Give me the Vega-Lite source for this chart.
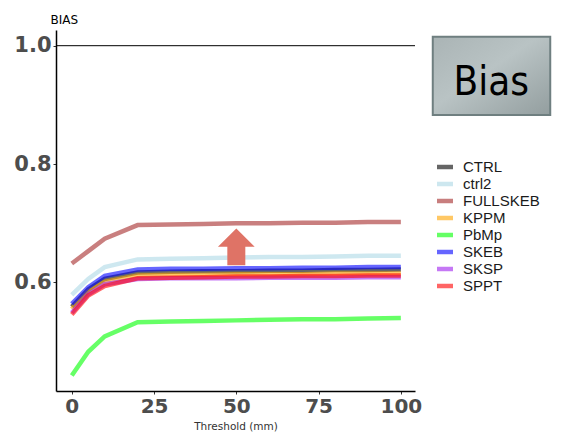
{
  "$schema": "https://vega.github.io/schema/vega-lite/v6.json",
  "autosize": "none",
  "padding": {"left": 56, "top": 30, "right": 155, "bottom": 42},
  "width": 359,
  "height": 361,
  "background": "white",
  "config": {"view": {"stroke": null}, "font": "DejaVu Sans"},
  "datasets": {
    "bias": [
      {"t":0,"model":"CTRL","bias":0.559},{"t":5,"model":"CTRL","bias":0.588},{"t":10,"model":"CTRL","bias":0.606},{"t":20,"model":"CTRL","bias":0.617},{"t":30,"model":"CTRL","bias":0.618},{"t":40,"model":"CTRL","bias":0.619},{"t":50,"model":"CTRL","bias":0.619},{"t":60,"model":"CTRL","bias":0.620},{"t":70,"model":"CTRL","bias":0.620},{"t":80,"model":"CTRL","bias":0.621},{"t":90,"model":"CTRL","bias":0.621},{"t":100,"model":"CTRL","bias":0.622},
      {"t":0,"model":"ctrl2","bias":0.579},{"t":5,"model":"ctrl2","bias":0.606},{"t":10,"model":"ctrl2","bias":0.626},{"t":20,"model":"ctrl2","bias":0.639},{"t":30,"model":"ctrl2","bias":0.640},{"t":40,"model":"ctrl2","bias":0.641},{"t":50,"model":"ctrl2","bias":0.642},{"t":60,"model":"ctrl2","bias":0.643},{"t":70,"model":"ctrl2","bias":0.643},{"t":80,"model":"ctrl2","bias":0.644},{"t":90,"model":"ctrl2","bias":0.645},{"t":100,"model":"ctrl2","bias":0.645},
      {"t":0,"model":"FULLSKEB","bias":0.632},{"t":5,"model":"FULLSKEB","bias":0.653},{"t":10,"model":"FULLSKEB","bias":0.674},{"t":20,"model":"FULLSKEB","bias":0.697},{"t":30,"model":"FULLSKEB","bias":0.698},{"t":40,"model":"FULLSKEB","bias":0.699},{"t":50,"model":"FULLSKEB","bias":0.700},{"t":60,"model":"FULLSKEB","bias":0.700},{"t":70,"model":"FULLSKEB","bias":0.701},{"t":80,"model":"FULLSKEB","bias":0.701},{"t":90,"model":"FULLSKEB","bias":0.702},{"t":100,"model":"FULLSKEB","bias":0.702},
      {"t":0,"model":"KPPM","bias":0.555},{"t":5,"model":"KPPM","bias":0.585},{"t":10,"model":"KPPM","bias":0.601},{"t":20,"model":"KPPM","bias":0.612},{"t":30,"model":"KPPM","bias":0.613},{"t":40,"model":"KPPM","bias":0.613},{"t":50,"model":"KPPM","bias":0.614},{"t":60,"model":"KPPM","bias":0.614},{"t":70,"model":"KPPM","bias":0.614},{"t":80,"model":"KPPM","bias":0.615},{"t":90,"model":"KPPM","bias":0.615},{"t":100,"model":"KPPM","bias":0.615},
      {"t":0,"model":"PbMp","bias":0.443},{"t":5,"model":"PbMp","bias":0.483},{"t":10,"model":"PbMp","bias":0.509},{"t":20,"model":"PbMp","bias":0.533},{"t":30,"model":"PbMp","bias":0.534},{"t":40,"model":"PbMp","bias":0.535},{"t":50,"model":"PbMp","bias":0.536},{"t":60,"model":"PbMp","bias":0.537},{"t":70,"model":"PbMp","bias":0.538},{"t":80,"model":"PbMp","bias":0.538},{"t":90,"model":"PbMp","bias":0.539},{"t":100,"model":"PbMp","bias":0.540},
      {"t":0,"model":"SKEB","bias":0.564},{"t":5,"model":"SKEB","bias":0.592},{"t":10,"model":"SKEB","bias":0.611},{"t":20,"model":"SKEB","bias":0.622},{"t":30,"model":"SKEB","bias":0.623},{"t":40,"model":"SKEB","bias":0.623},{"t":50,"model":"SKEB","bias":0.624},{"t":60,"model":"SKEB","bias":0.624},{"t":70,"model":"SKEB","bias":0.625},{"t":80,"model":"SKEB","bias":0.625},{"t":90,"model":"SKEB","bias":0.626},{"t":100,"model":"SKEB","bias":0.626},
      {"t":0,"model":"SKSP","bias":0.549},{"t":5,"model":"SKSP","bias":0.580},{"t":10,"model":"SKSP","bias":0.597},{"t":20,"model":"SKSP","bias":0.606},{"t":30,"model":"SKSP","bias":0.607},{"t":40,"model":"SKSP","bias":0.607},{"t":50,"model":"SKSP","bias":0.607},{"t":60,"model":"SKSP","bias":0.608},{"t":70,"model":"SKSP","bias":0.608},{"t":80,"model":"SKSP","bias":0.608},{"t":90,"model":"SKSP","bias":0.609},{"t":100,"model":"SKSP","bias":0.609},
      {"t":0,"model":"SPPT","bias":0.546},{"t":5,"model":"SPPT","bias":0.578},{"t":10,"model":"SPPT","bias":0.594},{"t":20,"model":"SPPT","bias":0.607},{"t":30,"model":"SPPT","bias":0.608},{"t":40,"model":"SPPT","bias":0.609},{"t":50,"model":"SPPT","bias":0.610},{"t":60,"model":"SPPT","bias":0.610},{"t":70,"model":"SPPT","bias":0.611},{"t":80,"model":"SPPT","bias":0.611},{"t":90,"model":"SPPT","bias":0.612},{"t":100,"model":"SPPT","bias":0.612}
    ],
    "box": [{"x1": 109.7, "x2": 145.4, "y1": 1.0152, "y2": 0.8828, "tx": 127.5, "ty": 0.9167, "label": "Bias"}],
    "arrow": [{"x": 50, "y": 0.6602}],
    "ref": [{"y": 1.0}]
  },
  "layer": [
    {
      "data": {"name": "ref"},
      "mark": {"type": "rule", "color": "black", "strokeWidth": 1},
      "encoding": {"y": {"field": "y", "type": "quantitative"}}
    },
    {
      "data": {"name": "bias"},
      "mark": {"type": "line", "strokeWidth": 4.5, "opacity": 0.6},
      "encoding": {
        "x": {
          "field": "t", "type": "quantitative",
          "scale": {"domain": [-4.8, 104.3], "nice": false, "zero": false},
          "axis": {
            "title": "Threshold (mm)", "values": [0, 25, 50, 75, 100], "grid": false,
            "domainColor": "black", "domainWidth": 1.5, "tickColor": "#333333", "tickSize": 3,
            "labelFont": "DejaVu Sans", "labelFontSize": 20, "labelFontWeight": "bold", "labelColor": "#4d4d4d", "labelPadding": 2,
            "titleFont": "DejaVu Sans", "titleFontSize": 10.5, "titleFontWeight": "normal", "titleColor": "#333333",
            "titleBaseline": "alphabetic", "titleY": 38
          }
        },
        "y": {
          "field": "bias", "type": "quantitative",
          "scale": {"domain": [0.4167, 1.0265], "nice": false, "zero": false},
          "axis": {
            "title": "BIAS", "values": [0.6, 0.8, 1.0], "format": ".1f", "grid": false,
            "domainColor": "black", "domainWidth": 1.5, "tickColor": "#333333", "tickSize": 3,
            "labelFont": "DejaVu Sans", "labelFontSize": 21, "labelFontWeight": "bold", "labelColor": "#4d4d4d", "labelPadding": 2,
            "titleFont": "DejaVu Sans", "titleFontSize": 12, "titleFontWeight": "normal", "titleColor": "black",
            "titleAngle": 0, "titleAlign": "left", "titleBaseline": "alphabetic", "titleX": -6, "titleY": -7
          }
        },
        "color": {
          "field": "model", "type": "nominal",
          "scale": {
            "domain": ["CTRL", "ctrl2", "FULLSKEB", "KPPM", "PbMp", "SKEB", "SKSP", "SPPT"],
            "range": ["#000000", "#add8e6", "#a52a2a", "#ffa500", "#00ff00", "#0000ff", "#a020f0", "#ff0000"]
          },
          "legend": {
            "title": null, "orient": "none", "legendX": 381, "legendY": 129, "padding": 0,
            "symbolType": "M-1.45,0L1.45,0", "symbolSize": 121, "symbolStrokeWidth": 4.5, "symbolOpacity": 0.6,
            "labelFont": "Liberation Sans", "labelFontSize": 15, "labelColor": "#1a1a1a", "labelOffset": 10,
            "rowPadding": -3
          }
        }
      }
    },
    {
      "data": {"name": "arrow"},
      "mark": {
        "type": "point", "filled": true, "opacity": 1, "color": "#df7366", "size": 1347,
        "shape": "M0,-1L1,0L0.49,0L0.49,1L-0.49,1L-0.49,0L-1,0Z"
      },
      "encoding": {
        "x": {"field": "x", "type": "quantitative"},
        "y": {"field": "y", "type": "quantitative"}
      }
    },
    {
      "data": {"name": "box"},
      "mark": {"type": "rect", "color": "#555555", "opacity": 0.35, "xOffset": 3, "yOffset": 5},
      "encoding": {
        "x": {"field": "x1", "type": "quantitative"},
        "x2": {"field": "x2"},
        "y": {"field": "y1", "type": "quantitative"},
        "y2": {"field": "y2"}
      }
    },
    {
      "data": {"name": "box"},
      "mark": {
        "type": "rect", "stroke": "#6f7f80", "strokeWidth": 2,
        "fill": {"gradient": "linear", "x1": 0, "y1": 0, "x2": 1, "y2": 1,
          "stops": [{"offset": 0, "color": "#aab4b5"}, {"offset": 0.45, "color": "#b9c3c4"}, {"offset": 1, "color": "#939e9f"}]}
      },
      "encoding": {
        "x": {"field": "x1", "type": "quantitative"},
        "x2": {"field": "x2"},
        "y": {"field": "y1", "type": "quantitative"},
        "y2": {"field": "y2"}
      }
    },
    {
      "data": {"name": "box"},
      "mark": {"type": "text", "font": "DejaVu Sans Condensed, Liberation Sans, sans-serif", "fontSize": 40, "color": "black", "align": "center", "baseline": "alphabetic"},
      "encoding": {
        "x": {"field": "tx", "type": "quantitative"},
        "y": {"field": "ty", "type": "quantitative"},
        "text": {"field": "label"}
      }
    }
  ]
}
